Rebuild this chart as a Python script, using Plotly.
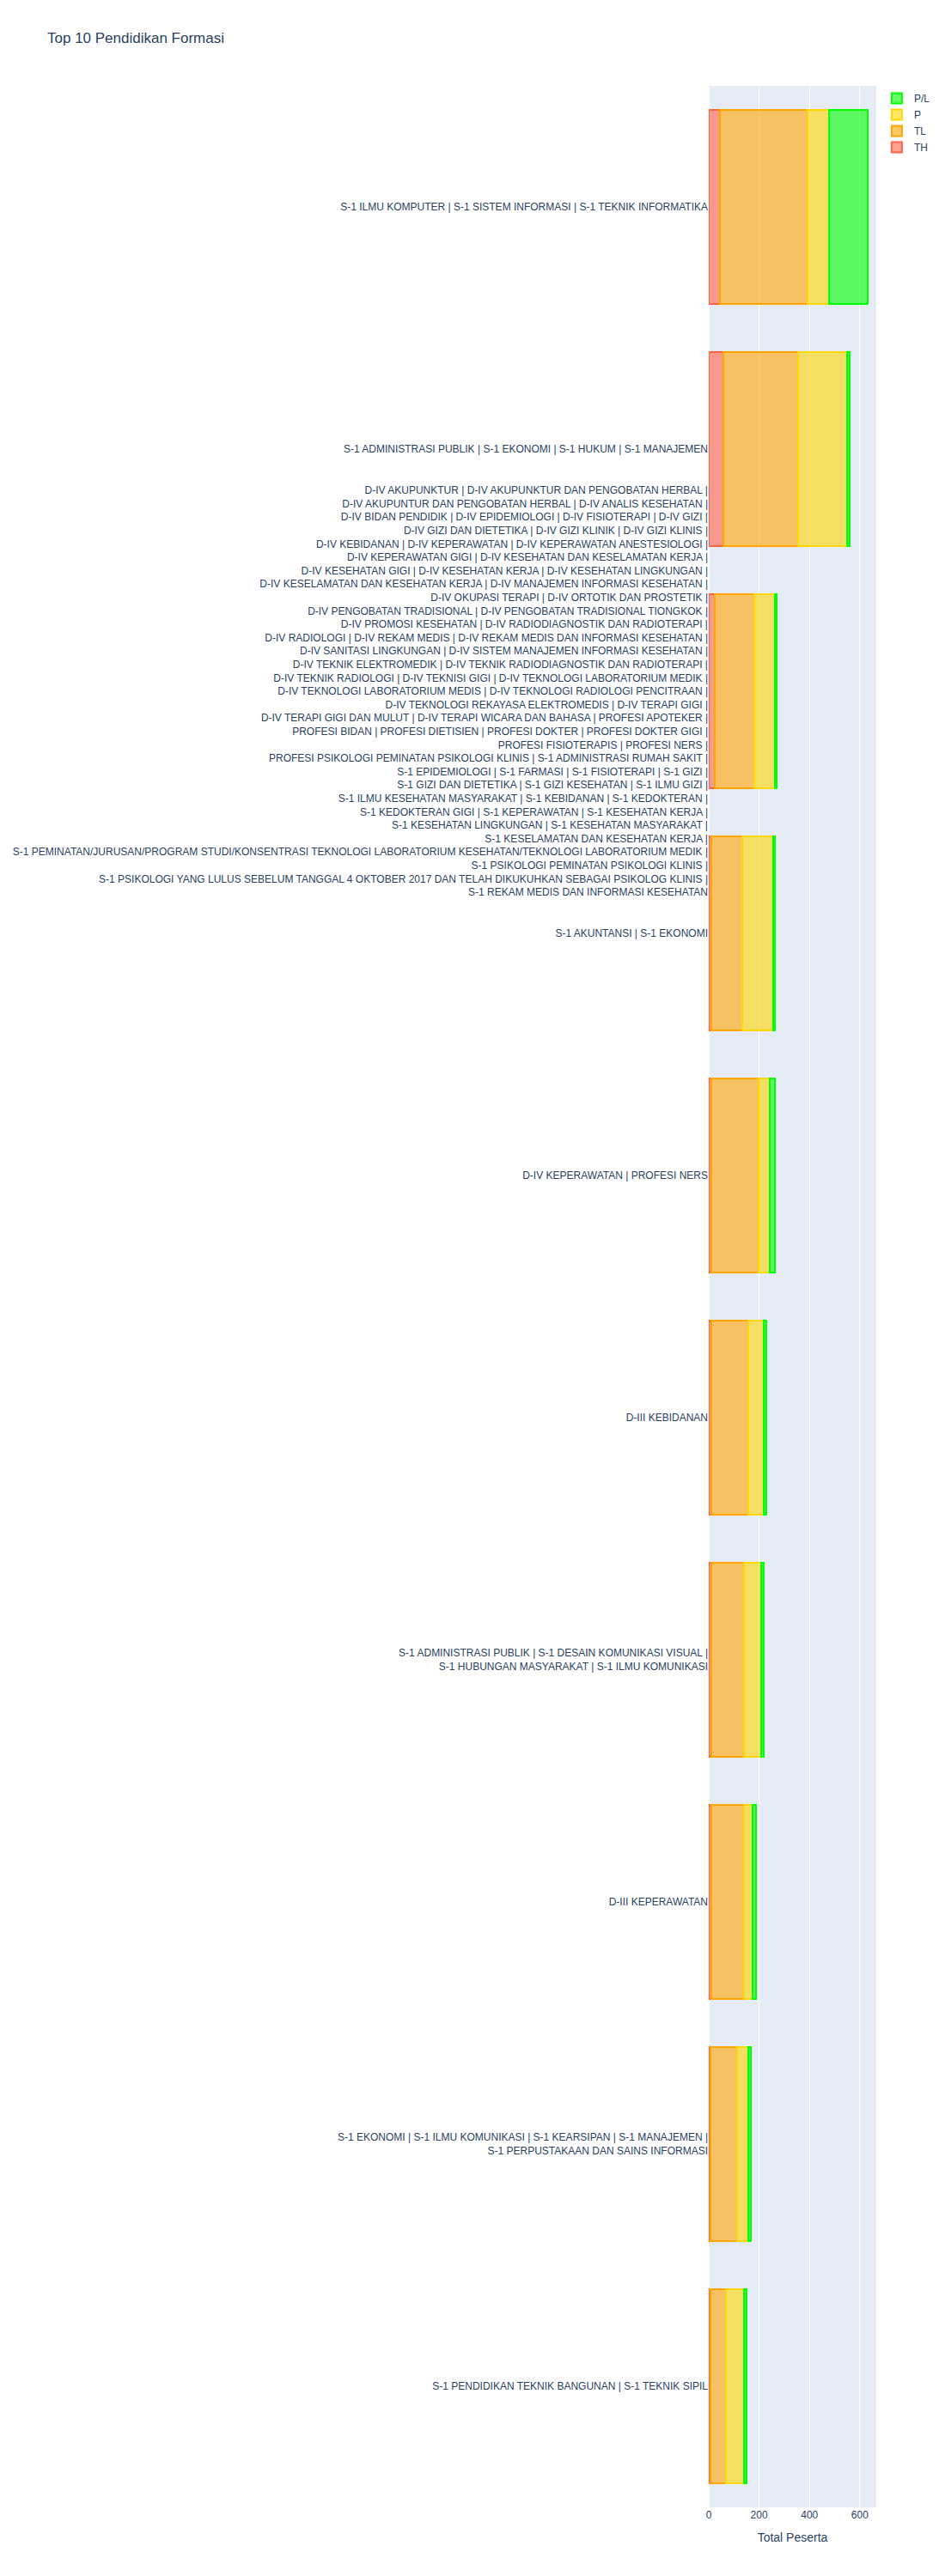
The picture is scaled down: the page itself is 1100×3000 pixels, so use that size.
import plotly.graph_objects as go

long_label_lines = [
    "D-IV AKUPUNKTUR | D-IV AKUPUNKTUR DAN PENGOBATAN HERBAL |",
    "D-IV AKUPUNTUR DAN PENGOBATAN HERBAL | D-IV ANALIS KESEHATAN |",
    "D-IV BIDAN PENDIDIK | D-IV EPIDEMIOLOGI | D-IV FISIOTERAPI | D-IV GIZI |",
    "D-IV GIZI DAN DIETETIKA | D-IV GIZI KLINIK | D-IV GIZI KLINIS |",
    "D-IV KEBIDANAN | D-IV KEPERAWATAN | D-IV KEPERAWATAN ANESTESIOLOGI |",
    "D-IV KEPERAWATAN GIGI | D-IV KESEHATAN DAN KESELAMATAN KERJA |",
    "D-IV KESEHATAN GIGI | D-IV KESEHATAN KERJA | D-IV KESEHATAN LINGKUNGAN |",
    "D-IV KESELAMATAN DAN KESEHATAN KERJA | D-IV MANAJEMEN INFORMASI KESEHATAN |",
    "D-IV OKUPASI TERAPI | D-IV ORTOTIK DAN PROSTETIK |",
    "D-IV PENGOBATAN TRADISIONAL | D-IV PENGOBATAN TRADISIONAL TIONGKOK |",
    "D-IV PROMOSI KESEHATAN | D-IV RADIODIAGNOSTIK DAN RADIOTERAPI |",
    "D-IV RADIOLOGI | D-IV REKAM MEDIS | D-IV REKAM MEDIS DAN INFORMASI KESEHATAN |",
    "D-IV SANITASI LINGKUNGAN | D-IV SISTEM MANAJEMEN INFORMASI KESEHATAN |",
    "D-IV TEKNIK ELEKTROMEDIK | D-IV TEKNIK RADIODIAGNOSTIK DAN RADIOTERAPI |",
    "D-IV TEKNIK RADIOLOGI | D-IV TEKNISI GIGI | D-IV TEKNOLOGI LABORATORIUM MEDIK |",
    "D-IV TEKNOLOGI LABORATORIUM MEDIS | D-IV TEKNOLOGI RADIOLOGI PENCITRAAN |",
    "D-IV TEKNOLOGI REKAYASA ELEKTROMEDIS | D-IV TERAPI GIGI |",
    "D-IV TERAPI GIGI DAN MULUT | D-IV TERAPI WICARA DAN BAHASA | PROFESI APOTEKER |",
    "PROFESI BIDAN | PROFESI DIETISIEN | PROFESI DOKTER | PROFESI DOKTER GIGI |",
    "PROFESI FISIOTERAPIS | PROFESI NERS |",
    "PROFESI PSIKOLOGI PEMINATAN PSIKOLOGI KLINIS | S-1 ADMINISTRASI RUMAH SAKIT |",
    "S-1 EPIDEMIOLOGI | S-1 FARMASI | S-1 FISIOTERAPI | S-1 GIZI |",
    "S-1 GIZI DAN DIETETIKA | S-1 GIZI KESEHATAN | S-1 ILMU GIZI |",
    "S-1 ILMU KESEHATAN MASYARAKAT | S-1 KEBIDANAN | S-1 KEDOKTERAN |",
    "S-1 KEDOKTERAN GIGI | S-1 KEPERAWATAN | S-1 KESEHATAN KERJA |",
    "S-1 KESEHATAN LINGKUNGAN | S-1 KESEHATAN MASYARAKAT |",
    "S-1 KESELAMATAN DAN KESEHATAN KERJA |",
    "S-1 PEMINATAN/JURUSAN/PROGRAM STUDI/KONSENTRASI TEKNOLOGI LABORATORIUM KESEHATAN/TEKNOLOGI LABORATORIUM MEDIK |",
    "S-1 PSIKOLOGI PEMINATAN PSIKOLOGI KLINIS |",
    "S-1 PSIKOLOGI YANG LULUS SEBELUM TANGGAL 4 OKTOBER 2017 DAN TELAH DIKUKUHKAN SEBAGAI PSIKOLOG KLINIS |",
    "S-1 REKAM MEDIS DAN INFORMASI KESEHATAN",
]

categories = [
    "S-1 ILMU KOMPUTER | S-1 SISTEM INFORMASI | S-1 TEKNIK INFORMATIKA",
    "S-1 ADMINISTRASI PUBLIK | S-1 EKONOMI | S-1 HUKUM | S-1 MANAJEMEN",
    "<br>".join(long_label_lines),
    "S-1 AKUNTANSI | S-1 EKONOMI",
    "D-IV KEPERAWATAN | PROFESI NERS",
    "D-III KEBIDANAN",
    "S-1 ADMINISTRASI PUBLIK | S-1 DESAIN KOMUNIKASI VISUAL |<br>S-1 HUBUNGAN MASYARAKAT | S-1 ILMU KOMUNIKASI",
    "D-III KEPERAWATAN",
    "S-1 EKONOMI | S-1 ILMU KOMUNIKASI | S-1 KEARSIPAN | S-1 MANAJEMEN |<br>S-1 PERPUSTAKAAN DAN SAINS INFORMASI",
    "S-1 PENDIDIKAN TEKNIK BANGUNAN | S-1 TEKNIK SIPIL",
]

TH = [45, 59, 25, 11, 10, 10, 11, 11, 8, 8]
TL = [347, 297, 155, 123, 189, 148, 130, 130, 106, 61]
P = [86, 193, 82, 122, 43, 60, 67, 33, 43, 71]
PL = [154, 12, 7, 6, 20, 10, 10, 13, 10, 10]

series = [
    ("TH", TH, "rgba(255,99,71,0.6)", "#FF6347"),
    ("TL", TL, "rgba(255,165,0,0.6)", "#FFA500"),
    ("P", P, "rgba(255,215,0,0.6)", "#FFD700"),
    ("P/L", PL, "rgba(0,255,0,0.6)", "#00FF00"),
]

fig = go.Figure()
for name, vals, fill, line in series:
    fig.add_trace(go.Bar(
        name=name, y=categories, x=vals, orientation="h",
        marker=dict(color=fill, line=dict(color=line, width=2)),
    ))

fig.update_layout(
    barmode="stack",
    width=1100, height=3000,
    font=dict(family="Liberation Sans, Arial, sans-serif"),
    title=dict(text="Top 10 Pendidikan Formasi"),
    margin=dict(l=825, r=80, t=100, b=80),
    xaxis=dict(title=dict(text="Total Peserta")),
    yaxis=dict(autorange="reversed", automargin=False),
)

fig.write_html("out.html")
